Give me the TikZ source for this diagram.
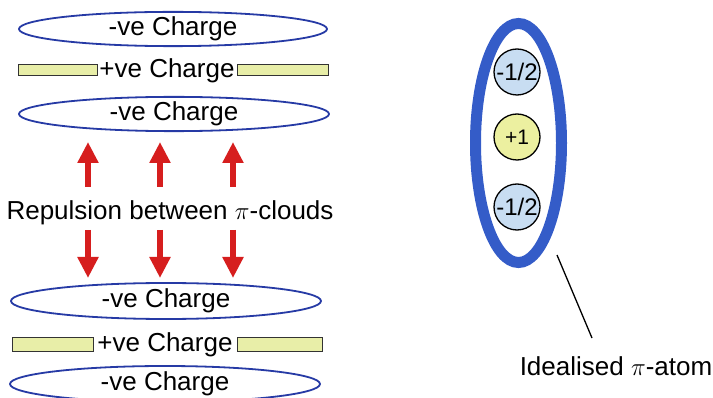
\documentclass[tikz,border=0pt]{standalone}
\usepackage{fontspec}
\setmainfont{Liberation Sans}
\usetikzlibrary{shapes.geometric,arrows.meta}
\definecolor{cloudblue}{RGB}{38,58,165}
\definecolor{atomblue}{RGB}{52,92,200}
\definecolor{barfill}{RGB}{232,238,168}
\definecolor{arrowred}{RGB}{214,30,30}
\definecolor{circblue}{RGB}{200,221,242}
\definecolor{circyellow}{RGB}{236,240,160}
\tikzset{
  cloud/.style={ellipse, draw=cloudblue, line width=1.8pt, minimum width=308pt, minimum height=34pt, inner sep=0pt, font=\fontsize{26}{30}\selectfont},
  barpiece/.style={draw=black!80, fill=barfill, line width=1pt},
  plustext/.style={inner sep=0pt, font=\fontsize{26}{30}\selectfont},
  repel/.style={draw=arrowred, line width=6pt, -{Triangle[width=20pt,length=21pt]}},
  charge/.style={circle, draw=black, line width=1.3pt, minimum size=46pt, inner sep=0pt, font=\fontsize{24}{26}\selectfont},
  bigtext/.style={inner sep=0pt, font=\fontsize{26}{30}\selectfont},
}
\begin{document}
\begin{tikzpicture}[x=1pt,y=-1pt]
\useasboundingbox (0,0) rectangle (713,398);
% top stack
\node[cloud] (c1) at (173,29) {-ve Charge};
\draw[barpiece] (18,65) rectangle (97,76);
\draw[barpiece] (237,65) rectangle (328,76);
\node[plustext] (p1) at (167,70.5) {+ve Charge};
\node[cloud, minimum width=310pt] (c2) at (174,114) {-ve Charge};
% repulsion
\node[bigtext] (rep) at (170,213) {Repulsion between $\pi$-clouds};
\foreach \x/\n in {88/a,160/b,233/c}{
  \coordinate (u\n s) at (\x,187);
  \coordinate (u\n e) at (\x,142);
  \coordinate (d\n s) at (\x,230);
  \coordinate (d\n e) at (\x,278);
  \draw[repel] (u\n s) -- (u\n e);
  \draw[repel] (d\n s) -- (d\n e);
}
% bottom stack
\node[cloud, minimum width=310pt, minimum height=36pt] (c3) at (166,301) {-ve Charge};
\draw[barpiece] (12,338) rectangle (93,352);
\draw[barpiece] (237,338) rectangle (322,352);
\node[plustext] (p2) at (165,345) {+ve Charge};
\node[cloud, minimum width=310pt, minimum height=36pt] (c4) at (165,384) {-ve Charge};
% pi atom
\node[ellipse, draw=atomblue, line width=11pt, minimum width=86pt, minimum height=239pt, inner sep=0pt] (atom) at (518.5,143) {};
\node[charge, fill=circblue] (q1) at (517,72) {-1/2};
\node[charge, fill=circyellow, font=\fontsize{21}{24}\selectfont] (q2) at (517,137) {+1};
\node[charge, fill=circblue] (q3) at (517,207) {-1/2};
\coordinate (l1) at (557,255);
\coordinate (l2) at (592,338);
\draw[line width=1.3pt] (l1) -- (l2);
\node[bigtext] (lab) at (616,366) {Idealised $\pi$-atom};
\end{tikzpicture}
\end{document}
